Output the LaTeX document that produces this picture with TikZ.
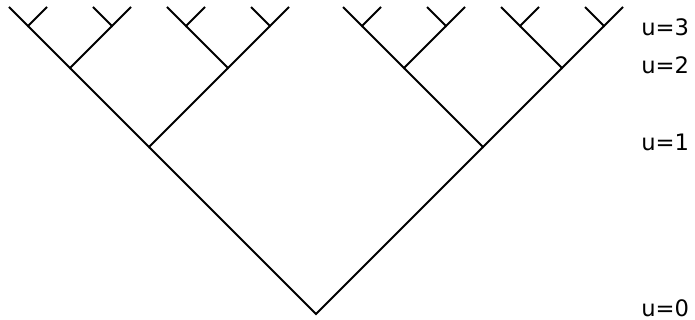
\documentclass[tikz,border=0pt]{standalone}
\usepackage{fontspec}
\setmainfont{DejaVu Sans}
\usepackage{tikz}
\tikzset{
	branch/.style={
		line width=1.5pt,
		draw=black
	},
	level/.style={
		anchor=west,
		inner sep=0pt,
		font=\fontsize{17}{20}\selectfont
	}
}

\begin{document}
\begin{tikzpicture}[x=0.75pt,y=-0.75pt]
		\useasboundingbox (0,0) rectangle (695,320);
		\coordinate (n-0-0) at (316,314);

		% each level halves (roughly) the spread of the one below
		\foreach \lvl/\d in {1/167,2/79,3/42,4/19}{
			\pgfmathtruncatemacro{\up}{\lvl-1}
			\pgfmathtruncatemacro{\last}{2^\up-1}
			\foreach \i in {0,...,\last}{
				\pgfmathtruncatemacro{\lft}{2*\i}
				\pgfmathtruncatemacro{\rgt}{2*\i+1}
				\path (n-\up-\i) ++(-\d,-\d) coordinate (n-\lvl-\lft);
				\path (n-\up-\i) ++(\d,-\d) coordinate (n-\lvl-\rgt);
				\draw[branch] (n-\lvl-\lft) -- (n-\up-\i) -- (n-\lvl-\rgt);
			}
		}

		\node[level] (u3) at (641,27.5) {u=3};
		\node[level] (u2) at (641,65) {u=2};
		\node[level] (u1) at (641,142.5) {u=1};
		\node[level] (u0) at (641,308.5) {u=0};
	\end{tikzpicture}
\end{document}
